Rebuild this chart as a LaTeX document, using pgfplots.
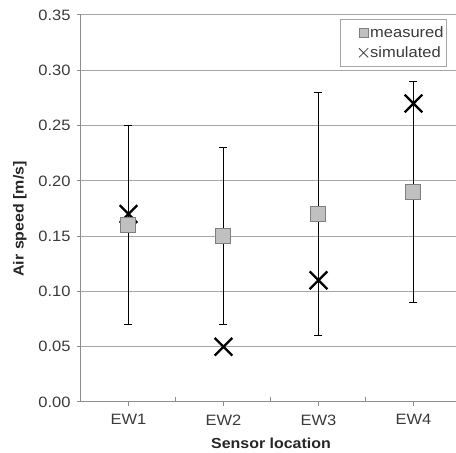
\documentclass[border=0pt]{standalone}
\usepackage{pgfplots}
\pgfplotsset{compat=1.18}
\usepackage{pgfplotstable}
\usepackage{fontspec}
\setmainfont{Liberation Sans}[FakeStretch=1.1]
\definecolor{gridc}{HTML}{A6A6A6}
\definecolor{axisc}{HTML}{8C8C8C}
\definecolor{sqfill}{HTML}{C0C0C0}
\definecolor{sqdraw}{HTML}{7F7F7F}
\definecolor{tickc}{HTML}{3A3A3A}
\pgfplotsset{smallmarklegend/.style={legend image code/.code={%
  \path[draw=none, fill=none] (-22pt,0pt) -- (2pt,0pt);
  \draw[##1] plot coordinates {(0pt,0pt)};}}}

% x  measured  error(+/-)  simulated
\pgfplotstableread{
x m e s
1 0.16 0.09 0.17
2 0.15 0.08 0.05
3 0.17 0.11 0.11
4 0.19 0.10 0.27
}\data

\begin{document}
\begin{tikzpicture}[x=1pt,y=1pt]
\useasboundingbox (0,0) rectangle (456,453);
\clip (0,0) rectangle (456,453);
\begin{axis}[
  at={(81pt,51pt)}, anchor=south west,
  scale only axis, width=380pt, height=387pt,
  xmin=0.5, xmax=4.5, ymin=0, ymax=0.35,
  axis x line*=bottom, axis y line*=left,
  axis line style={axisc, line width=1pt},
  xtick={1,2,3,4}, xticklabels={EW1,EW2,EW3,EW4},
  ytick={0,0.05,0.10,0.15,0.20,0.25,0.30,0.35},
  yticklabel style={xshift=-3pt, /pgf/number format/.cd, fixed, fixed zerofill, precision=2},
  /pgf/number format/assume math mode=true,
  tick align=outside, major tick length=4pt,
  tick style={axisc, line width=1pt},
  extra x ticks={1.5,2.5,3.5}, extra x tick labels={},
  extra x tick style={tick align=inside, major tick length=5pt},
  ymajorgrids, major grid style={gridc, line width=1pt},
  tick label style={font=\fontsize{15}{17}\selectfont, color=tickc},
  xticklabel style={yshift=-5pt},
  xlabel={\textbf{Sensor location}},
  ylabel={\textbf{Air speed [m/s]}},
  label style={font=\fontsize{14.5}{17}\selectfont, color=black!85},
  xlabel style={at={(axis description cs:0.5,0)}, anchor=center, yshift=-41pt},
  ylabel style={at={(axis description cs:0,0.473)}, anchor=center, yshift=61pt},
  legend style={at={(rel axis cs:0.682,0.990)}, anchor=north west,
    draw=gridc, line width=0.8pt, font=\fontsize{15}{17}\selectfont, text=tickc,
    cells={anchor=west}, inner xsep=1pt, inner ysep=5pt, row sep=4pt},
]
\addplot[only marks, mark=x, mark size=12.5pt, mark options={black, line width=2.3pt}, forget plot]
  table[x=x, y=s]{\data};
\addplot[only marks, mark=square*, mark size=7.5pt, forget plot,
  mark options={fill=sqfill, draw=sqdraw, line width=1pt},
  error bars/.cd, y dir=both, y explicit,
  error bar style={black, line width=1.3pt},
  error mark options={rotate=90, mark size=4pt, black, line width=1.3pt}]
  table[x=x, y=m, y error=e]{\data};
\addlegendimage{only marks, mark=square*, mark size=4.5pt, mark options={fill=sqfill, draw=sqdraw, line width=0.8pt}, smallmarklegend}
\addlegendentry{measured}
\addlegendimage{only marks, mark=x, mark size=6.5pt, mark options={black!75, line width=0.8pt}, smallmarklegend}
\addlegendentry{simulated}
\end{axis}
\end{tikzpicture}
\end{document}
